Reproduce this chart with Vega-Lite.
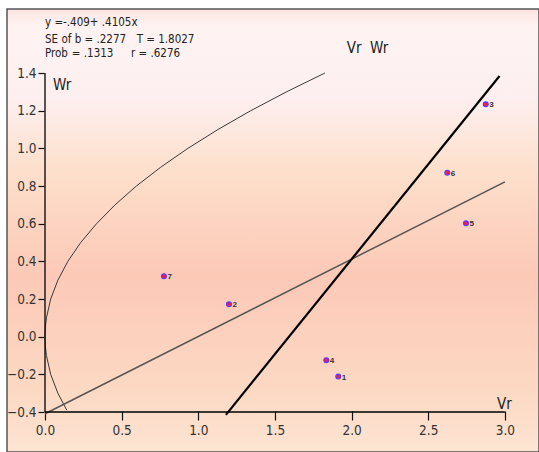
{
  "$schema": "https://vega.github.io/schema/vega-lite/v6.json",
  "width": 532,
  "height": 443,
  "autosize": {"type": "none"},
  "padding": {"left": 7, "top": 9, "right": 0, "bottom": 0},
  "background": "#ffffff",
  "data": {"values": [{"a": 1}]},
  "config": {
    "view": {
      "fill": {
        "gradient": "linear", "x1": 0, "y1": 0, "x2": 0, "y2": 1,
        "stops": [
          {"offset": 0, "color": "#fbe4e2"},
          {"offset": 0.04, "color": "#fff3f2"},
          {"offset": 0.2, "color": "#fdeff0"},
          {"offset": 0.36, "color": "#fde0cc"},
          {"offset": 0.6, "color": "#fcc9b7"},
          {"offset": 0.85, "color": "#fcd8c2"},
          {"offset": 1, "color": "#fde4d2"}
        ]
      },
      "stroke": "#555555",
      "strokeWidth": 1.5
    },
    "text": {"font": "DejaVu Sans Condensed, Liberation Sans, sans-serif"},
    "axis": {
      "title": null, "grid": false, "domain": false,
      "format": ".1f", "tickColor": "#111111", "tickWidth": 1.2,
      "labelFont": "DejaVu Sans Condensed, Liberation Sans, sans-serif", "labelFontSize": 13.5, "labelColor": "#333333"
    },
    "axisX": {"offset": -41, "tickSize": 9, "labelPadding": 3},
    "axisY": {"offset": -37, "tickSize": 6, "labelPadding": 2}
  },
  "datasets": {
    "curve": [
      {"o": 1, "x": 0.142, "y": -0.39},
      {"o": 2, "x": 0.084, "y": -0.3},
      {"o": 3, "x": 0.037, "y": -0.2},
      {"o": 4, "x": 0.0093, "y": -0.1},
      {"o": 5, "x": 0.0023, "y": -0.05},
      {"o": 6, "x": 0.0, "y": 0.0},
      {"o": 7, "x": 0.0023, "y": 0.05},
      {"o": 8, "x": 0.0093, "y": 0.1},
      {"o": 9, "x": 0.037, "y": 0.2},
      {"o": 10, "x": 0.084, "y": 0.3},
      {"o": 11, "x": 0.149, "y": 0.4},
      {"o": 12, "x": 0.233, "y": 0.5},
      {"o": 13, "x": 0.336, "y": 0.6},
      {"o": 14, "x": 0.457, "y": 0.7},
      {"o": 15, "x": 0.596, "y": 0.8},
      {"o": 16, "x": 0.755, "y": 0.9},
      {"o": 17, "x": 0.932, "y": 1.0},
      {"o": 18, "x": 1.128, "y": 1.1},
      {"o": 19, "x": 1.342, "y": 1.2},
      {"o": 20, "x": 1.575, "y": 1.3},
      {"o": 21, "x": 1.826, "y": 1.4}
    ],
    "fit": [
      {"x": 0.0, "y": -0.409},
      {"x": 3.0, "y": 0.822}
    ],
    "fit2": [
      {"x": 1.18, "y": -0.415},
      {"x": 2.965, "y": 1.384}
    ],
    "points": [
      {"id": "1", "x": 1.913, "y": -0.212},
      {"id": "2", "x": 1.2, "y": 0.172},
      {"id": "3", "x": 2.875, "y": 1.234},
      {"id": "4", "x": 1.835, "y": -0.125},
      {"id": "5", "x": 2.746, "y": 0.602},
      {"id": "6", "x": 2.624, "y": 0.871},
      {"id": "7", "x": 0.776, "y": 0.321}
    ]
  },
  "layer": [
    {
      "data": {"name": "curve"},
      "mark": {"type": "line", "color": "#3a3a3a", "strokeWidth": 1, "clip": true},
      "encoding": {
        "x": {"field": "x", "type": "quantitative", "scale": {"domain": [-0.2479, 3.2224], "nice": false, "zero": false},
          "axis": {"orient": "bottom", "values": [0, 0.5, 1, 1.5, 2, 2.5, 3]}},
        "y": {"field": "y", "type": "quantitative", "scale": {"domain": [-0.6123, 1.74], "nice": false, "zero": false},
          "axis": {"orient": "left", "values": [-0.4, -0.2, 0, 0.2, 0.4, 0.6, 0.8, 1.0, 1.2, 1.4]}},
        "order": {"field": "o", "type": "quantitative"}
      }
    },
    {
      "data": {"name": "fit"},
      "mark": {"type": "line", "color": "#555555", "strokeWidth": 1.5},
      "encoding": {
        "x": {"field": "x", "type": "quantitative", "scale": {"domain": [-0.2479, 3.2224], "nice": false, "zero": false}},
        "y": {"field": "y", "type": "quantitative", "scale": {"domain": [-0.6123, 1.74], "nice": false, "zero": false}}
      }
    },
    {
      "data": {"name": "fit2"},
      "mark": {"type": "line", "color": "#000000", "strokeWidth": 2.2},
      "encoding": {
        "x": {"field": "x", "type": "quantitative", "scale": {"domain": [-0.2479, 3.2224], "nice": false, "zero": false}},
        "y": {"field": "y", "type": "quantitative", "scale": {"domain": [-0.6123, 1.74], "nice": false, "zero": false}}
      }
    },
    {
      "mark": {"type": "rule", "color": "#000000", "strokeWidth": 1.3},
      "encoding": {
        "x": {"datum": 0, "type": "quantitative"},
        "x2": {"datum": 3},
        "y": {"datum": -0.4, "type": "quantitative"}
      }
    },
    {
      "mark": {"type": "rule", "color": "#000000", "strokeWidth": 1.3},
      "encoding": {
        "x": {"datum": 0, "type": "quantitative"},
        "y": {"datum": -0.4, "type": "quantitative"},
        "y2": {"datum": 1.4}
      }
    },
    {
      "data": {"name": "points"},
      "mark": {"type": "point", "filled": true, "color": "#e8205a", "opacity": 1, "stroke": "#5a36ff", "strokeWidth": 1.1, "size": 24, "shape": "circle"},
      "encoding": {
        "x": {"field": "x", "type": "quantitative", "scale": {"domain": [-0.2479, 3.2224], "nice": false, "zero": false}},
        "y": {"field": "y", "type": "quantitative", "scale": {"domain": [-0.6123, 1.74], "nice": false, "zero": false}}
      }
    },
    {
      "data": {"name": "points"},
      "mark": {"type": "text", "align": "left", "baseline": "middle", "dx": 3.5, "dy": 1, "fontSize": 8, "fontWeight": "bold", "color": "#333333", "font": "Liberation Sans"},
      "encoding": {
        "x": {"field": "x", "type": "quantitative", "scale": {"domain": [-0.2479, 3.2224], "nice": false, "zero": false}},
        "y": {"field": "y", "type": "quantitative", "scale": {"domain": [-0.6123, 1.74], "nice": false, "zero": false}},
        "text": {"field": "id"}
      }
    },
    {
      "mark": {"type": "text", "align": "left", "baseline": "alphabetic", "fontSize": 11.5, "color": "#222222"},
      "encoding": {"x": {"datum": 0.0, "type": "quantitative"}, "y": {"datum": 1.65, "type": "quantitative"}, "text": {"value": "y =-.409+ .4105x"}}
    },
    {
      "mark": {"type": "text", "align": "left", "baseline": "alphabetic", "fontSize": 11.5, "color": "#222222"},
      "encoding": {"x": {"datum": 0.0, "type": "quantitative"}, "y": {"datum": 1.561, "type": "quantitative"}, "text": {"value": "SE of b = .2277"}}
    },
    {
      "mark": {"type": "text", "align": "left", "baseline": "alphabetic", "fontSize": 11.5, "color": "#222222"},
      "encoding": {"x": {"datum": 0.598, "type": "quantitative"}, "y": {"datum": 1.561, "type": "quantitative"}, "text": {"value": "T = 1.8027"}}
    },
    {
      "mark": {"type": "text", "align": "left", "baseline": "alphabetic", "fontSize": 11.5, "color": "#222222"},
      "encoding": {"x": {"datum": 0.0, "type": "quantitative"}, "y": {"datum": 1.484, "type": "quantitative"}, "text": {"value": "Prob"}}
    },
    {
      "mark": {"type": "text", "align": "left", "baseline": "alphabetic", "fontSize": 11.5, "color": "#222222"},
      "encoding": {"x": {"datum": 0.175, "type": "quantitative"}, "y": {"datum": 1.484, "type": "quantitative"}, "text": {"value": "= .1313"}}
    },
    {
      "mark": {"type": "text", "align": "left", "baseline": "alphabetic", "fontSize": 11.5, "color": "#222222"},
      "encoding": {"x": {"datum": 0.561, "type": "quantitative"}, "y": {"datum": 1.484, "type": "quantitative"}, "text": {"value": "r = .6276"}}
    },
    {
      "mark": {"type": "text", "align": "left", "baseline": "alphabetic", "fontSize": 15, "color": "#222222"},
      "encoding": {"x": {"datum": 1.968, "type": "quantitative"}, "y": {"datum": 1.507, "type": "quantitative"}, "text": {"value": "Vr"}}
    },
    {
      "mark": {"type": "text", "align": "left", "baseline": "alphabetic", "fontSize": 15, "color": "#222222"},
      "encoding": {"x": {"datum": 2.12, "type": "quantitative"}, "y": {"datum": 1.507, "type": "quantitative"}, "text": {"value": "Wr"}}
    },
    {
      "mark": {"type": "text", "align": "left", "baseline": "alphabetic", "fontSize": 15, "color": "#222222"},
      "encoding": {"x": {"datum": 0.052, "type": "quantitative"}, "y": {"datum": 1.31, "type": "quantitative"}, "text": {"value": "Wr"}}
    },
    {
      "mark": {"type": "text", "align": "left", "baseline": "alphabetic", "fontSize": 15, "color": "#222222"},
      "encoding": {"x": {"datum": 2.948, "type": "quantitative"}, "y": {"datum": -0.384, "type": "quantitative"}, "text": {"value": "Vr"}}
    }
  ]
}
